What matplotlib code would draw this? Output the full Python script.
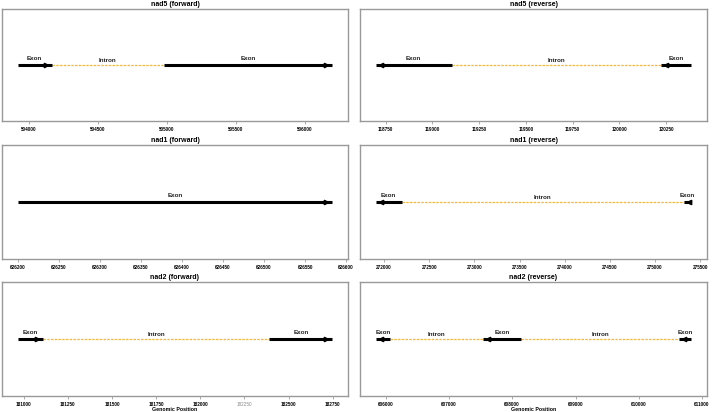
import matplotlib
matplotlib.use("Agg")
import matplotlib.pyplot as plt
from matplotlib.transforms import offset_copy

plt.rcParams['font.family'] = ['Liberation Sans', 'DejaVu Sans']

# ---- data ----
titles = ["nad5 (forward)", "nad5 (reverse)", "nad1 (forward)",
          "nad1 (reverse)", "nad2 (forward)", "nad2 (reverse)"]
strands = ["+", "-", "+", "-", "+", "-"]

nad5_fwd_types = ["Exon", "Intron", "Exon"]
nad5_fwd_starts = [503920, 504165, 504981]
nad5_fwd_ends = [504165, 504981, 506200]
nad5_fwd_ticks = [504000, 504500, 505000, 505500, 506000]

nad5_rev_types = ["Exon", "Intron", "Exon"]
nad5_rev_starts = [118697, 119102, 120221]
nad5_rev_ends = [119102, 120221, 120384]
nad5_rev_ticks = [118750, 119000, 119250, 119500, 119750, 120000, 120250]

nad1_fwd_types = ["Exon"]
nad1_fwd_starts = [626200]
nad1_fwd_ends = [626583]
nad1_fwd_ticks = [626200, 626250, 626300, 626350, 626400, 626450, 626500, 626550, 626600]

nad1_rev_types = ["Exon", "Intron", "Exon"]
nad1_rev_starts = [271908, 272195, 275317]
nad1_rev_ends = [272195, 275317, 275402]
nad1_rev_ticks = [272000, 272500, 273000, 273500, 274000, 274500, 275000, 275500]

nad2_fwd_types = ["Exon", "Intron", "Exon"]
nad2_fwd_starts = [180966, 181107, 182391]
nad2_fwd_ends = [181107, 182391, 182747]
nad2_fwd_ticks = [181000, 181250, 181500, 181750, 182000, 182250, 182500, 182750]

nad2_rev_types = ["Exon", "Intron", "Exon", "Intron", "Exon"]
nad2_rev_starts = [605843, 606068, 607537, 608142, 610635]
nad2_rev_ends = [606068, 607537, 608142, 610635, 610829]
nad2_rev_ticks = [606000, 607000, 608000, 609000, 610000, 611000]

panels = [
    (nad5_fwd_types, nad5_fwd_starts, nad5_fwd_ends, nad5_fwd_ticks),
    (nad5_rev_types, nad5_rev_starts, nad5_rev_ends, nad5_rev_ticks),
    (nad1_fwd_types, nad1_fwd_starts, nad1_fwd_ends, nad1_fwd_ticks),
    (nad1_rev_types, nad1_rev_starts, nad1_rev_ends, nad1_rev_ticks),
    (nad2_fwd_types, nad2_fwd_starts, nad2_fwd_ends, nad2_fwd_ticks),
    (nad2_rev_types, nad2_rev_starts, nad2_rev_ends, nad2_rev_ticks),
]

W, H = 714, 412
fig = plt.figure(figsize=(W / 100, H / 100), dpi=100)

col_x = [(2, 346), (360, 347)]
row_y = [(9, 112), (145, 114), (282, 114)]

for i, (types, starts, ends, ticks) in enumerate(panels):
    r, c = divmod(i, 2)
    x0, w = col_x[c]
    y0, h = row_y[r]
    ax = fig.add_axes([x0 / W, 1 - (y0 + h) / H, w / W, h / H])
    strand = strands[i]
    for t, s, e in zip(types, starts, ends):
        mid = (s + e) / 2
        if t == "Exon":
            ax.plot([s, e], [0, 0], color="black", lw=2.2, solid_capstyle="butt", zorder=3)
            if strand == "+":
                tr = offset_copy(ax.transData, fig=fig, x=-6, y=0, units="dots")
                ax.plot([e], [0], marker=">", color="black", ms=3.2, transform=tr, zorder=4)
            else:
                tr = offset_copy(ax.transData, fig=fig, x=5, y=0, units="dots")
                ax.plot([s], [0], marker="<", color="black", ms=3.2, transform=tr, zorder=4)
            ax.text(mid, 0.07, t, ha="center", va="bottom", fontsize=4.5,
                    fontweight="bold", color="#222222")
        else:
            ax.plot([s, e], [0, 0], color="#f5b63c", lw=0.9, ls=(0, (2, 1)), zorder=2)
            ax.text(mid, 0.035, t, ha="center", va="bottom", fontsize=4.5,
                    fontweight="bold", color="#222222")
    ax.set_ylim(-1, 1)
    ax.set_yticks([])
    ax.set_xticks(ticks)
    ax.set_xticklabels([str(t) for t in ticks], fontsize=3.3, fontweight="bold")
    ax.tick_params(axis="x", length=2, width=0.5, color="#888888", pad=2)
    for sp in ax.spines.values():
        sp.set_color("#999999")
        sp.set_linewidth(1.0)
    ax.set_title(titles[i], fontsize=5, fontweight="bold", pad=2.5)
    if r == 2:
        ax.set_xlabel("Genomic Position", fontsize=3.8, fontweight="bold", labelpad=0)
    if i == 4:
        for lab in ax.get_xticklabels():
            if lab.get_text() == "182250":
                lab.set_color("#888888")
                lab.set_fontweight("normal")

fig.savefig("out.png", dpi=100)
